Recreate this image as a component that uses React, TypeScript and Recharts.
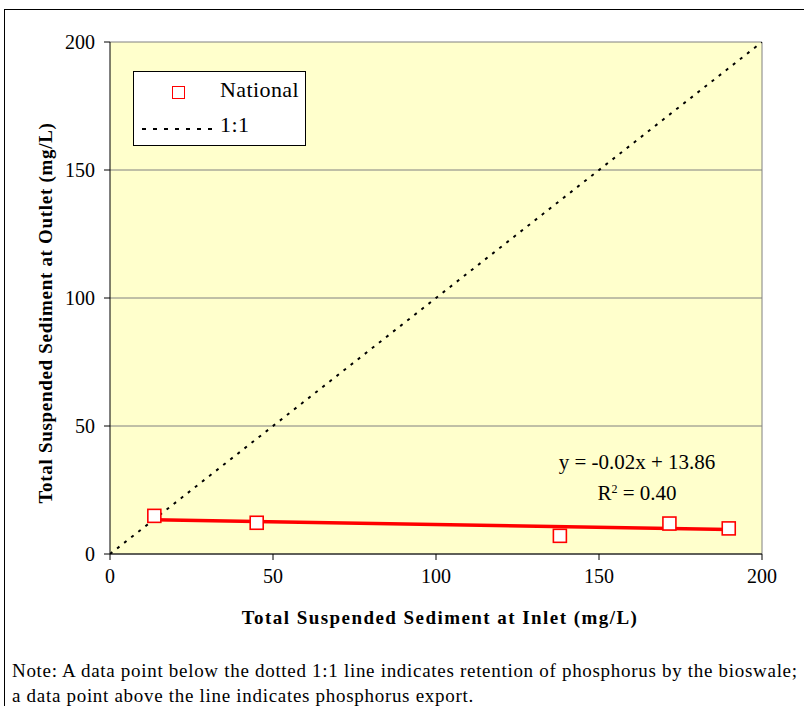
import { ScatterChart, Scatter, XAxis, YAxis, CartesianGrid, ReferenceLine } from 'recharts'

// observed inlet / outlet TSS (mg/L)
const inletTss = [13.6, 45.0, 138.0, 171.6, 189.8]
const outletTss = [14.9, 12.2, 7.1, 11.9, 10.0]

// linear fit drawn on the chart (end points)
const trendX = [13.6, 189.8]
const trendY = [13.4, 9.6]

// 1:1 reference
const oneToOneX = [0, 200]
const oneToOneY = [0, 200]

const axisTicks = [0, 50, 100, 150, 200]

const national = inletTss.map((x, i) => ({ x, y: outletTss[i] }))
const trend = trendX.map((x, i) => ({ x, y: trendY[i] }))
const oneToOne = oneToOneX.map((x, i) => ({ x, y: oneToOneY[i] }))

const FONT = '"Liberation Serif", "Times New Roman", serif'

const Square = (props: any) => {
  const { cx, cy } = props
  if (cx == null || cy == null) return <g />
  return <rect x={cx - 6.5} y={cy - 6.5} width={13} height={13} fill="#fff" stroke="#ff0000" strokeWidth={1.6} />
}

const NoDot = () => <g />

const XTick = (props: any) => (
  <text x={props.x} y={props.y} dy="0.71em" textAnchor="middle" fontFamily={FONT} fontSize={20} fill="#000">
    {props.payload.value}
  </text>
)

const YTick = (props: any) => (
  <text x={props.x} y={props.y} dy="0.355em" textAnchor="end" fontFamily={FONT} fontSize={20} fill="#000">
    {props.payload.value}
  </text>
)

export default function App() {
  return (
    <div style={{ position: 'absolute', left: 0, top: 0, width: 804, height: 706, overflow: 'hidden', background: '#fff', fontFamily: FONT }}>
      <div style={{ position: 'absolute', left: 4, top: 9, width: 820, height: 720, border: '1px solid #000', boxSizing: 'border-box' }} />
      <ScatterChart
        width={804}
        height={706}
        margin={{ top: 42, right: 42, bottom: 122, left: 50 }}
        style={{ position: 'absolute', left: 0, top: 0 }}
      >
        <CartesianGrid horizontal vertical={false} stroke="#808080" fill="#ffffcc" />
        <XAxis
          type="number"
          dataKey="x"
          domain={[0, 200]}
          ticks={axisTicks}
          height={30}
          tickSize={6}
          tickMargin={9}
          stroke="#000"
          tick={XTick}
          allowDataOverflow
        />
        <YAxis
          type="number"
          dataKey="y"
          domain={[0, 200]}
          ticks={axisTicks}
          width={60}
          tickSize={6}
          tickMargin={9}
          stroke="#000"
          tick={YTick}
          allowDataOverflow
        />
        <ReferenceLine x={200} stroke="#808080" />
        <Scatter
          data={oneToOne}
          line={{ stroke: '#000', strokeWidth: 2, strokeDasharray: '3 6' }}
          lineType="joint"
          shape={NoDot}
          isAnimationActive={false}
        />
        <Scatter
          data={trend}
          line={{ stroke: '#ff0000', strokeWidth: 3.5 }}
          lineType="joint"
          shape={NoDot}
          isAnimationActive={false}
        />
        <Scatter data={national} shape={Square} isAnimationActive={false} />
      </ScatterChart>

      {/* legend */}
      <div style={{ position: 'absolute', left: 133, top: 71, width: 173, height: 75, background: '#fff', border: '1px solid #000', boxSizing: 'border-box', fontSize: 22, letterSpacing: 0.4 }}>
        <div style={{ position: 'absolute', left: 38, top: 14, width: 11, height: 11, border: '1.5px solid #ff0000' }} />
        <div style={{ position: 'absolute', left: 86, top: 5 }}>National</div>
        <svg style={{ position: 'absolute', left: 8, top: 55 }} width={72} height={4}>
          <line x1={0} y1={2} x2={72} y2={2} stroke="#000" strokeWidth={2} strokeDasharray="4 7" />
        </svg>
        <div style={{ position: 'absolute', left: 86, top: 40 }}>1:1</div>
      </div>

      {/* fit equation */}
      <div style={{ position: 'absolute', left: 537, top: 449, width: 200, textAlign: 'center', fontSize: 21, lineHeight: '27px' }}>
        <div>y = -0.02x + 13.86</div>
        <div>R<sup style={{ fontSize: 12, verticalAlign: 7 }}>2</sup> = 0.40</div>
      </div>

      {/* axis titles */}
      <div style={{ position: 'absolute', left: 240, top: 607, width: 400, textAlign: 'center', fontSize: 19, fontWeight: 'bold', letterSpacing: 1.45, whiteSpace: 'nowrap' }}>
        Total Suspended Sediment at Inlet (mg/L)
      </div>
      <div style={{ position: 'absolute', left: 46 - 200, top: 313 - 11, width: 400, textAlign: 'center', transform: 'rotate(-90deg)', fontSize: 19, fontWeight: 'bold', letterSpacing: 0.7, whiteSpace: 'nowrap', lineHeight: '22px' }}>
        Total Suspended Sediment at Outlet (mg/L)
      </div>

      {/* note */}
      <div style={{ position: 'absolute', left: 12, top: 658, fontSize: 19, letterSpacing: 0.7, lineHeight: '25px', whiteSpace: 'nowrap' }}>
        <div>Note: A data point below the dotted 1:1 line indicates retention of phosphorus by the bioswale;</div>
        <div>a data point above the line indicates phosphorus export.</div>
      </div>
    </div>
  )
}
